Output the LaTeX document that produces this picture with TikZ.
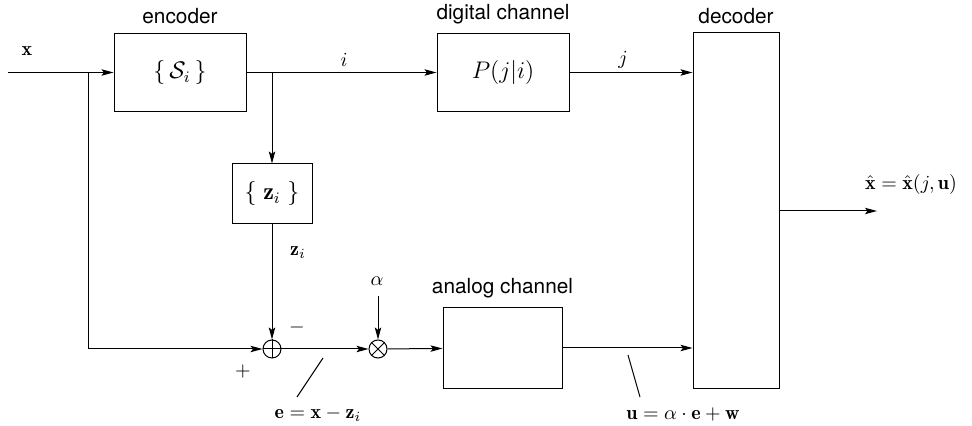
\documentclass[tikz,border=0pt]{standalone}
\usepackage{amsmath,amssymb}
\usepackage{fontspec}
\setsansfont{TeX Gyre Heros}
\usepackage{tikz}
\usetikzlibrary{arrows.meta,positioning,calc}

\begin{document}
\begin{tikzpicture}[
    x=0.5pt, y=-0.5pt, line width=0.5pt,
    block/.style={draw, minimum width=66pt, minimum height=39pt, inner sep=0pt, font=\large},
    title/.style={font=\sffamily\fontsize{10.4}{12}\selectfont},
    op/.style={draw, circle, minimum size=9pt, inner sep=0pt},
    arrow/.style={-{Stealth[length=6pt,width=3.2pt,inset=1.2pt]}},
    tick/.style={line width=0.5pt}
]
    \useasboundingbox (0,0) rectangle (972,426);

    % blocks
    \node[block] (enc) at (180,72.5) {$\{\,\mathcal{S}_i\,\}$};
    \node[block] (dig) at (503,72.5) {$P(j|i)$};
    \node[block, minimum width=40pt, minimum height=30pt] (zset) at (272,194) {$\{\;\mathbf{z}_i\;\}$};
    \node[block, minimum width=59.5pt, minimum height=40pt] (ana) at (502.5,348) {};
    \node[block, minimum width=43pt, minimum height=177.5pt] (dec) at (736,210.5) {};

    \node[title, above=1pt of enc] (enc_t) {encoder};
    \node[title, above=1pt of dig] (dig_t) {digital channel};
    \node[title, above=1pt of ana] (ana_t) {analog channel};
    \node[title, above=1pt of dec] (dec_t) {decoder};

    % summing and scaling points
    \node[op] (sum) at (272,349) {};
    \draw (sum.north) -- (sum.south) (sum.west) -- (sum.east);
    \node[op] (mul) at (378,349) {};
    \draw (mul.north west) -- (mul.south east) (mul.north east) -- (mul.south west);

    % free ends and branch points
    \coordinate (in) at (8,72.5);
    \coordinate (br_x) at (88,72.5);
    \coordinate (br_i) at (272,72.5);
    \coordinate (alpha_in) at (378,296);
    \coordinate (out) at (877,211);

    % connectors
    \draw[arrow] (in) -- (enc);
    \draw[arrow] (br_x) |- (sum);
    \draw[arrow] (enc) -- (dig);
    \draw[arrow] (br_i) -- (zset);
    \draw[arrow] (zset) -- (sum);
    \draw[arrow] (sum) -- (mul);
    \draw[arrow] (alpha_in) -- (mul);
    \draw[arrow] (mul) -- (ana);
    \draw[arrow] (dig.east) -- (dig.east -| dec.west);
    \draw[arrow] (ana.east) -- (ana.east -| dec.west);
    \draw[arrow] (dec.east |- out) -- (out);

    % labels
    \node (lx) at (27,51) {$\mathbf{x}$};
    \node (li) at (344,60) {$i$};
    \node (lj) at (623,60) {$j$};
    \node (lz) at (298,253) {$\mathbf{z}_i$};
    \node (lminus) at (297,328) {$-$};
    \node (lplus) at (243,372) {$+$};
    \node (lalpha) at (377,281) {$\alpha$};
    \node (lout) at (911,185) {$\hat{\mathbf{x}} = \hat{\mathbf{x}}(j,\mathbf{u})$};

    \coordinate (e_a) at (323,358);
    \coordinate (e_b) at (297,397);
    \draw[tick] (e_a) -- (e_b);
    \node (le) at (318,414) {$\mathbf{e} = \mathbf{x} - \mathbf{z}_i$};

    \coordinate (u_a) at (628,355);
    \coordinate (u_b) at (640,397);
    \draw[tick] (u_a) -- (u_b);
    \node (lu) at (683,414) {$\mathbf{u} = \alpha \cdot \mathbf{e} + \mathbf{w}$};
\end{tikzpicture}
\end{document}
